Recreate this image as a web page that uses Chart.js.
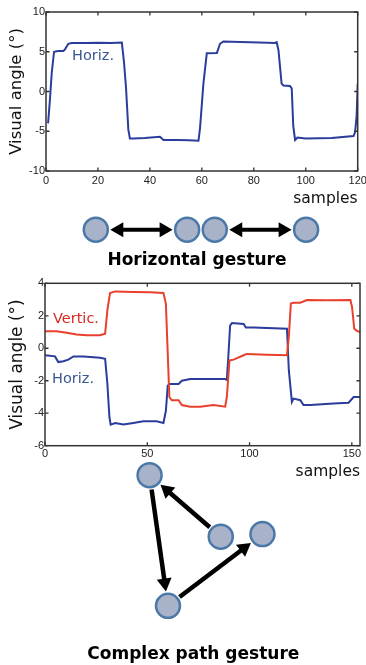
<!DOCTYPE html>
<html><head><meta charset="utf-8">
<script src="https://cdn.jsdelivr.net/npm/chart.js@4.4.1/dist/chart.umd.min.js"></script>
<style>
html,body{margin:0;padding:0;background:#fff;}
body{width:366px;height:665px;position:relative;overflow:hidden;}
.box{position:absolute;}
.lbl{position:absolute;font-family:'DejaVu Sans';font-size:14.5px;line-height:14.5px;white-space:nowrap;}
.cap{position:absolute;font-family:'DejaVu Sans';font-weight:bold;font-size:17px;line-height:20px;text-align:center;white-space:nowrap;color:#000;width:300px;}
</style></head><body>
<div class="box" style="left:0;top:0;width:366px;height:208px"><canvas id="c1"></canvas></div>
<div class="box" style="left:0;top:270px;width:366px;height:211px"><canvas id="c2"></canvas></div>
<div class="box" style="left:0;top:0;width:366px;height:665px;pointer-events:none"><canvas id="c3"></canvas></div>
<div class="lbl" style="left:72px;top:47.7px;color:#3a5894">Horiz.</div>
<div class="lbl" style="left:53px;top:310.6px;color:#d9281e">Vertic.</div>
<div class="lbl" style="left:52px;top:370.6px;color:#3a5894">Horiz.</div>
<div class="cap" style="left:47px;top:249.3px">Horizontal gesture</div>
<div class="cap" style="left:43.3px;top:642.8px">Complex path gesture</div>
<script>
// ---- Data: top chart (horizontal gesture) ----
const topSamples = [0.8,1.5,2.2,3.1,4.7,6.7,7.3,8.6,9.9,15,20,25,29.2,30,30.8,31.7,32.3,33.6,38,43.9,45.2,50,55,58.7,59.3,60.6,61.9,65.8,67.0,68.3,75,82,88.2,88.8,89.5,90.7,91.4,93.9,94.6,95.2,95.9,96.8,100,110,118.4,119,119.6,120];
const topHoriz   = [-4.0,-1.1,2.3,5.0,5.1,5.1,5.3,6.0,6.1,6.1,6.12,6.1,6.15,3.8,0.5,-4.8,-5.9,-5.9,-5.85,-5.7,-6.1,-6.1,-6.12,-6.2,-4.6,1.0,4.8,4.85,6.0,6.3,6.22,6.15,6.1,6.2,5.2,1.0,0.75,0.7,0.4,-4.4,-6.1,-5.8,-5.9,-5.85,-5.6,-5.1,-3.0,1.0];
const topXTicks = [0,20,40,60,80,100,120];
const topYTicks = [-10,-5,0,5,10];

// ---- Data: bottom chart (complex path gesture) ----
const vertSamples = [0,5.7,10.6,15.5,20.4,26.9,29.4,30.5,31.8,34.3,43.2,51.4,57.9,59.1,60,60.8,62,65.3,66.9,71,75.9,82.4,88.1,88.9,90.2,92.2,97.1,98.7,108.5,118.3,119.2,120.2,121.5,124.8,128.1,137.8,149.3,150.1,151.2,152.5,154];
const vertValues  = [1.05,1.05,0.95,0.85,0.8,0.8,0.9,2.35,3.4,3.5,3.47,3.45,3.4,2.75,-0.3,-3.0,-3.2,-3.2,-3.5,-3.6,-3.6,-3.5,-3.6,-3.0,-0.75,-0.7,-0.43,-0.35,-0.4,-0.43,0.7,2.76,2.8,2.8,2.97,2.95,2.97,2.55,1.2,1.07,1.0];
const horizSamples = [0,4.9,6.5,9,11.4,13.9,18.8,26.9,29.4,30.5,31.5,32.1,34.3,38.3,43.2,48.1,54.6,57.9,59.1,60,61.2,65.3,66.9,71,79.1,88.1,88.9,89.7,90.5,91.4,97.1,98.2,102,118.3,119.2,120.7,121.5,124.8,126.4,129.7,141.1,148.4,150.9,154];
const horizValues  = [-0.43,-0.5,-0.85,-0.8,-0.7,-0.5,-0.5,-0.58,-0.65,-2.2,-4.25,-4.7,-4.6,-4.7,-4.6,-4.5,-4.5,-4.6,-3.85,-2.3,-2.2,-2.2,-2.0,-1.9,-1.9,-1.9,-1.95,-0.35,1.4,1.55,1.5,1.28,1.28,1.2,-1.35,-3.3,-3.1,-3.2,-3.5,-3.5,-3.4,-3.35,-3.0,-3.0];
const botXTicks = [0,50,100,150];
const botYTicks = [-6,-4,-2,0,2,4];

// ---- Diagram nodes (illustration) ----
const horizGestureNodes = [{x:88.3,y:225},{x:187.5,y:225},{x:217.5,y:225},{x:316.7,y:225}];
const horizGestureArrows = [[0,1,true],[2,3,true]];
const complexNodes = [{x:146.7,y:481.7},{x:224,y:546},{x:269.3,y:543.3},{x:166.7,y:618.3}];
const complexArrows = [[1,0,false],[0,3,false],[3,2,false]];

const zip = (xs, ys) => xs.map((x,i)=>({x, y: ys[i]}));

const matlabAxes = {
  id:'matlabAxes',
  afterDatasetsDraw(chart){
    const {ctx, chartArea:a, scales:{x,y}} = chart;
    ctx.save();
    ctx.strokeStyle='#333';
    ctx.lineWidth=1.5;
    ctx.strokeRect(a.left,a.top,a.right-a.left,a.bottom-a.top);
    ctx.lineWidth=1.3;
    ctx.beginPath();
    x.ticks.forEach(t=>{const p=x.getPixelForValue(t.value);
      ctx.moveTo(p,a.bottom);ctx.lineTo(p,a.bottom-3.5);
      ctx.moveTo(p,a.top);ctx.lineTo(p,a.top+3.5);});
    y.ticks.forEach(t=>{const p=y.getPixelForValue(t.value);
      ctx.moveTo(a.left,p);ctx.lineTo(a.left+3.5,p);
      ctx.moveTo(a.right,p);ctx.lineTo(a.right-3.5,p);});
    ctx.stroke();
    ctx.restore();
  }
};

function fixScale(w,h){
  return function(s){
    if(w!==null) s.width=w;
    if(h!==null) s.height=h;
    s.paddingLeft=0;s.paddingRight=0;s.paddingTop=0;s.paddingBottom=0;
  };
}

function lineChart(id, cfg){
  return new Chart(document.getElementById(id), {
    type:'line',
    data:{datasets:cfg.datasets.map(d=>({
      data:d.data, borderColor:d.color, borderWidth:2, pointRadius:0, tension:0, fill:false
    }))},
    options:{
      responsive:true, maintainAspectRatio:false, animation:false, devicePixelRatio:1,
      layout:{padding:cfg.padding},
      plugins:{legend:{display:false}, tooltip:{enabled:false}},
      scales:{
        x:{type:'linear', min:cfg.xMin, max:cfg.xMax,
          afterBuildTicks:(s)=>{s.ticks=cfg.xTicks.map(v=>({value:v}));},
          grid:{display:false, drawTicks:false}, border:{display:false},
          ticks:{padding:cfg.xPad, color:'#222', font:{family:'Liberation Sans', size:11}, maxRotation:0, autoSkip:false},
          title:{display:true, text:'samples', align:'end', color:'#111', font:{family:'DejaVu Sans', size:15.5}, padding:{top:0,bottom:0}},
          afterFit:fixScale(null,cfg.xH)},
        y:{type:'linear', min:cfg.yMin, max:cfg.yMax,
          afterBuildTicks:(s)=>{s.ticks=cfg.yTicks.map(v=>({value:v}));},
          grid:{display:false, drawTicks:false}, border:{display:false},
          ticks:{padding:1, color:'#222', font:{family:'Liberation Sans', size:11}, autoSkip:false},
          title:{display:true, text:'Visual angle (°)', color:'#111', font:{family:'DejaVu Sans', size:cfg.yTitleSize}, padding:{top:cfg.yTitlePad,bottom:0}},
          afterFit:fixScale(cfg.yW,null)}
      }
    },
    plugins:[matlabAxes]
  });
}

lineChart('c1', {
  datasets:[{data:zip(topSamples, topHoriz), color:'#2a3c9c'}],
  padding:{left:0, top:12, right:8.3, bottom:0},
  xMin:0, xMax:120, yMin:-10, yMax:10, xTicks:topXTicks, yTicks:topYTicks,
  xH:37, yW:46, xPad:3, yTitleSize:16.5, yTitlePad:7
});

lineChart('c2', {
  datasets:[
    {data:zip(vertSamples, vertValues), color:'#e8402c'},
    {data:zip(horizSamples, horizValues), color:'#2a3c9c'}
  ],
  padding:{left:0, top:13.3, right:6, bottom:0},
  xMin:0, xMax:154, yMin:-6, yMax:4, xTicks:botXTicks, yTicks:botYTicks,
  xH:35.3, yW:45, xPad:2, yTitleSize:17, yTitlePad:7
});

const arrowPlugin = {
  id:'arrows',
  beforeDatasetsDraw(chart){
    const {ctx, scales:{x,y}} = chart;
    const groups = [[horizGestureNodes, horizGestureArrows, 4],[complexNodes, complexArrows, 4.5]];
    ctx.save();
    ctx.fillStyle='#000'; ctx.strokeStyle='#000';
    const head=(tx,ty,ux,uy)=>{
      const L=13, W=7.5;
      ctx.beginPath();
      ctx.moveTo(tx,ty);
      ctx.lineTo(tx-ux*L-uy*W, ty-uy*L+ux*W);
      ctx.lineTo(tx-ux*L+uy*W, ty-uy*L-ux*W);
      ctx.closePath(); ctx.fill();
    };
    groups.forEach(([nodes, arrows, lw])=>{
      arrows.forEach(([i,j,both])=>{
        const x1=x.getPixelForValue(nodes[i].x), y1=y.getPixelForValue(nodes[i].y);
        const x2=x.getPixelForValue(nodes[j].x), y2=y.getPixelForValue(nodes[j].y);
        const d=Math.hypot(x2-x1,y2-y1), ux=(x2-x1)/d, uy=(y2-y1)/d;
        const g=14.5;
        const sx=x1+ux*g, sy=y1+uy*g, ex=x2-ux*g, ey=y2-uy*g;
        ctx.lineWidth=lw;
        ctx.beginPath();
        ctx.moveTo(both? sx+ux*10: sx, both? sy+uy*10: sy);
        ctx.lineTo(ex-ux*10, ey-uy*10);
        ctx.stroke();
        head(ex,ey,ux,uy);
        if(both) head(sx,sy,-ux,-uy);
      });
    });
    ctx.restore();
  }
};

new Chart(document.getElementById('c3'), {
  type:'scatter',
  data:{datasets:[horizGestureNodes, complexNodes].map(n=>({
    data:n, pointRadius:12, pointHoverRadius:12, pointBorderWidth:2.5,
    pointBackgroundColor:'#a8b2c8', pointBorderColor:'#4a78a8', clip:false
  }))},
  options:{
    responsive:true, maintainAspectRatio:false, animation:false, devicePixelRatio:1,
    layout:{padding:0},
    events:[],
    plugins:{legend:{display:false}, tooltip:{enabled:false}},
    scales:{
      x:{type:'linear', min:0, max:366, display:false},
      y:{type:'linear', min:0, max:665, reverse:true, display:false}
    }
  },
  plugins:[arrowPlugin]
});
</script>
</body></html>
